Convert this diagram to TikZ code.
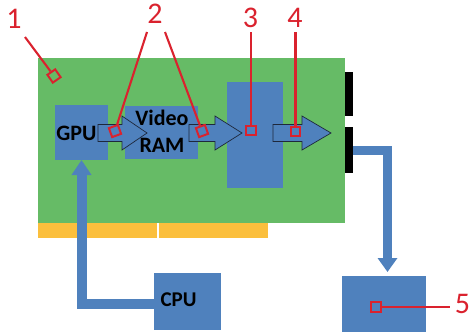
\documentclass[tikz,border=0pt]{standalone}
\usepackage{fontspec}
\setmainfont{Carlito}
\usetikzlibrary{arrows.meta,calc}
\definecolor{bblue}{RGB}{79,129,189}
\definecolor{bgreen}{RGB}{102,187,102}
\definecolor{byellow}{RGB}{251,191,61}
\definecolor{myred}{RGB}{218,34,46}
\definecolor{outl}{RGB}{30,40,60}
\begin{document}
\begin{tikzpicture}[x=1pt,y=-1pt,
  rbox/.style={draw=none, inner sep=0, outer sep=0},
  bluebox/.style={rbox, fill=bblue},
  bigconn/.style={draw=bblue, line width=#1},
  blockarrow/.style={fill=bblue, draw=outl, line width=0.7pt, line join=miter},
  boxtext/.style={inner sep=0, font=\bfseries\fontsize{22}{27}\selectfont, align=center},
  redsq/.style={draw=myred, line width=2pt, minimum size=9.5pt, inner sep=0, fill=none},
  redline/.style={draw=myred, line width=2.1pt},
  lab/.style={text=myred, inner sep=0, font=\fontsize{30}{30}\selectfont}]
\useasboundingbox (0,0) rectangle (471,332);
% board
\node[rbox, fill=bgreen, minimum width=307pt, minimum height=164.5pt] (board) at (191.5,140.25) {};
\node[rbox, fill=byellow, minimum width=119pt, minimum height=15pt] (strip1) at (97.5,230) {};
\node[rbox, fill=byellow, minimum width=109pt, minimum height=15pt] (strip2) at (213.5,230) {};
% boxes
\node[bluebox, minimum width=53pt, minimum height=55pt] (gpu) at (81.5,132.5) {};
\node[bluebox, minimum width=73pt, minimum height=53pt] (vram) at (161.5,132.5) {};
\node[bluebox, minimum width=56pt, minimum height=106pt] (chip) at (255,135) {};
\node[rbox, fill=black, minimum width=8pt, minimum height=44pt] (conn1) at (349,94) {};
\node[rbox, fill=black, minimum width=8pt, minimum height=46pt] (conn2) at (349,150) {};
\node[bluebox, minimum width=84pt, minimum height=56pt] (monitor) at (384,304) {};
\node[bluebox, minimum width=67pt, minimum height=57pt] (cpu) at (187.5,301.5) {};
% thick connectors
\draw[bigconn=10pt, -{Triangle[width=19pt,length=15pt]}] ([yshift=-2.5pt]cpu.west) -| (gpu.south);
\draw[bigconn=9pt, -{Triangle[width=19pt,length=14pt]}, shorten >=4pt] (conn2.east) -| ([xshift=3.5pt]monitor.north);
% block arrows
\draw[blockarrow] (98,124.5) -- (122,124.5) -- (122,116) -- (147,133) -- (122,150) -- (122,141.5) -- (98,141.5) -- cycle;
\draw[blockarrow] (189,124.5) -- (215,124.5) -- (215,116) -- (242,133) -- (215,150) -- (215,141.5) -- (189,141.5) -- cycle;
\draw[blockarrow] (273,124.5) -- (302,124.5) -- (302,116) -- (331,133) -- (302,150) -- (302,141.5) -- (273,141.5) -- cycle;
% texts
\node[boxtext] (gputext) at (76.5,133.5) {GPU};
\node[boxtext] (vramtext) at (162,131.5) {Video\\RAM};
\node[boxtext, font=\bfseries\fontsize{21}{25}\selectfont] (cputext) at (178.5,300) {CPU};
% red labels
\node[lab] (l1) at (14,19) {1};
\node[lab] (l2) at (155,14) {2};
\node[lab] (l3) at (250.5,17.5) {3};
\node[lab] (l4) at (295,17.5) {4};
\node[lab] (l5) at (462.5,303.5) {5};
\node[redsq, rotate=35] (s1) at (54,76) {};
\node[redsq, rotate=20] (s2a) at (115,131) {};
\node[redsq, rotate=20] (s2b) at (202,131) {};
\node[redsq] (s3) at (251,130.5) {};
\node[redsq] (s4) at (295.5,131.5) {};
\node[redsq] (s5) at (376,307) {};
\coordinate (p1) at (25,37);
\coordinate (p2a) at (147,32);
\coordinate (p2b) at (165,32);
\coordinate (p3) at (251,32);
\coordinate (p4) at (295.5,32);
\coordinate (p5) at (450,307);
\draw[redline] (p1) -- (s1);
\draw[redline] (p2a) -- (s2a);
\draw[redline] (p2b) -- (s2b);
\draw[redline] (p3) -- (s3);
\draw[redline] (p4) -- (s4);
\draw[redline] (s5) -- (p5);
\end{tikzpicture}
\end{document}
